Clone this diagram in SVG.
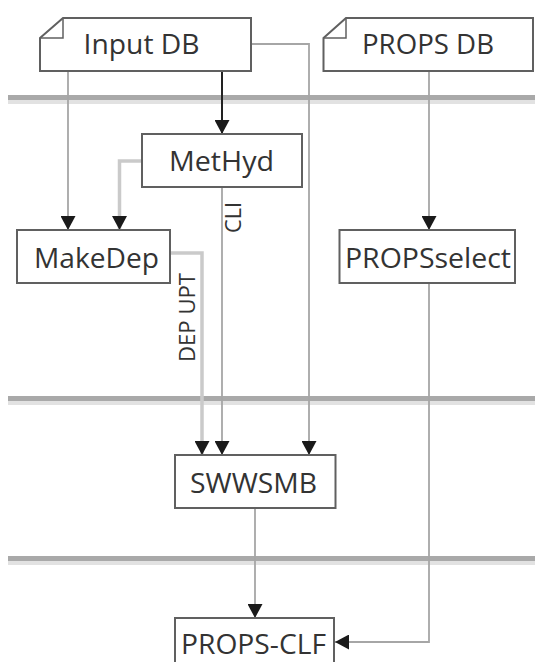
<svg xmlns="http://www.w3.org/2000/svg" width="535" height="662" viewBox="0 0 535 662">
<style>
.box{fill:#fff;stroke:#606060;stroke-width:2}
.lbl{font-family:"Open Sans","Liberation Sans",sans-serif;font-size:28px;fill:#333;text-anchor:middle}
.sm{font-family:"Open Sans","Liberation Sans",sans-serif;font-size:22px;fill:#333;text-anchor:middle}
.c{fill:none;stroke:#a6a6a6;stroke-width:1.8}
.cl{fill:none;stroke:#cacaca;stroke-width:3.5}
.cb{fill:none;stroke:#222;stroke-width:2}
</style>
<defs>
<marker id="ah" markerUnits="userSpaceOnUse" markerWidth="15" markerHeight="15" refX="14" refY="7.5" orient="auto">
<path d="M0,0 L14,7.5 L0,15 Z" fill="#1a1a1a"/>
</marker>
</defs>
<rect width="535" height="662" fill="#fff"/>
<g id="separators">
<rect x="8" y="95" width="527" height="5" fill="#a9a9a9"/>
<rect x="8" y="100" width="527" height="4" fill="#e2e2e2"/>
<rect x="8" y="396" width="527" height="5" fill="#a9a9a9"/>
<rect x="8" y="401" width="527" height="4" fill="#e2e2e2"/>
<rect x="8" y="556" width="527" height="5" fill="#a9a9a9"/>
<rect x="8" y="561" width="527" height="4" fill="#e2e2e2"/>
</g>
<g id="connectors">
<path class="c" d="M251,44 H309 V455" marker-end="url(#ah)"/>
<path class="c" d="M68,71 V230" marker-end="url(#ah)"/>
<path class="cb" d="M222,71 V134" marker-end="url(#ah)"/>
<path class="c" d="M429,71 V230" marker-end="url(#ah)"/>
<path class="cl" d="M142,161 H119.5 V230" marker-end="url(#ah)"/>
<path class="cl" d="M170,253 H202 V455" marker-end="url(#ah)"/>
<path class="c" d="M222,187 V455" marker-end="url(#ah)"/>
<path class="c" d="M429,283 V642 H335" marker-end="url(#ah)"/>
<path class="c" d="M255,508 V618" marker-end="url(#ah)"/>
<text class="sm" transform="translate(195,317.5) rotate(-90)" textLength="89" lengthAdjust="spacingAndGlyphs">DEP UPT</text>
<text class="sm" transform="translate(241,217.5) rotate(-90)" textLength="31" lengthAdjust="spacingAndGlyphs">CLI</text>
</g>
<g id="input-db">
<path class="box" d="M40,38 L63,18 H251 V71 H40 Z"/>
<path fill="none" stroke="#606060" stroke-width="1.5" d="M40,38 H63 V18"/>
<text class="lbl" x="141.6" y="53.5" textLength="116" lengthAdjust="spacingAndGlyphs">Input DB</text>
</g>
<g id="props-db">
<path class="box" d="M323.5,38 L346,18 H533 V71 H323.5 Z"/>
<path fill="none" stroke="#606060" stroke-width="1.5" d="M323.5,38 H346 V18"/>
<text class="lbl" x="428" y="53.5" textLength="132" lengthAdjust="spacingAndGlyphs">PROPS DB</text>
</g>
<g id="methyd">
<rect class="box" x="142" y="134" width="160" height="53"/>
<text class="lbl" x="221.5" y="171" textLength="105" lengthAdjust="spacingAndGlyphs">MetHyd</text>
</g>
<g id="makedep">
<rect class="box" x="17" y="230" width="153" height="53"/>
<text class="lbl" x="96.5" y="267.5" textLength="125" lengthAdjust="spacingAndGlyphs">MakeDep</text>
</g>
<g id="propsselect">
<rect class="box" x="339.5" y="230" width="175.5" height="53"/>
<text class="lbl" x="428" y="267.5" textLength="166" lengthAdjust="spacingAndGlyphs">PROPSselect</text>
</g>
<g id="swwsmb">
<rect class="box" x="175" y="455" width="160.5" height="53"/>
<text class="lbl" x="253.5" y="492.5" textLength="127" lengthAdjust="spacingAndGlyphs">SWWSMB</text>
</g>
<g id="props-clf">
<rect class="box" x="175" y="618" width="159" height="60"/>
<text class="lbl" x="253.5" y="654" textLength="145" lengthAdjust="spacingAndGlyphs">PROPS-CLF</text>
</g>
</svg>
